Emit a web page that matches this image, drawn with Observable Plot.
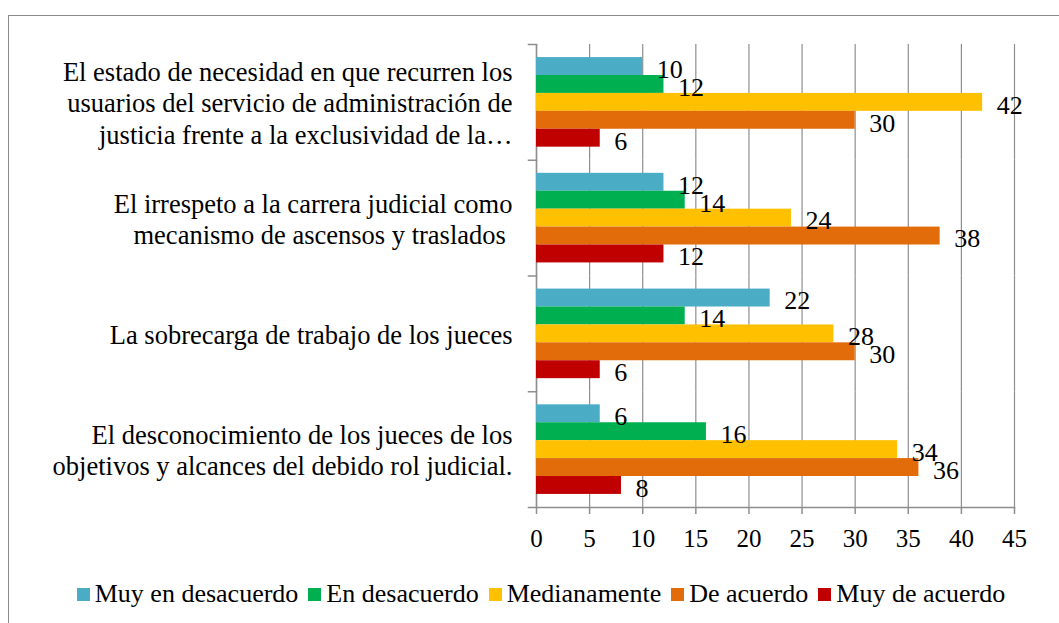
<!DOCTYPE html>
<html>
<head>
<meta charset="utf-8">
<script src="https://cdn.jsdelivr.net/npm/d3@7"></script>
<script src="https://cdn.jsdelivr.net/npm/@observablehq/plot@0.6"></script>
<style>
  html, body { margin: 0; padding: 0; background: #fff; overflow: hidden; }
  #wrap { position: relative; width: 1059px; height: 623px; overflow: hidden; font-family: 'Times New Roman', 'Liberation Serif', 'DejaVu Serif', serif; }
  #border { position: absolute; left: 8px; top: 15px; width: 1200px; height: 800px; border: 1.5px solid #8a8a8a; box-sizing: border-box; }
  #chart { position: absolute; left: 0; top: 0; }
  #legend { position: absolute; left: 0; top: 579px; width: 1092px; display: flex; justify-content: center; align-items: center; font-size: 26px; color: #000; }
  .item { display: flex; align-items: center; margin-right: 10px; white-space: nowrap; }
  .sw { width: 13px; height: 13px; margin-right: 5px; }
</style>
</head>
<body>
<div id="wrap">
  <div id="border"></div>
  <div id="chart"></div>
  <div id="legend"></div>
</div>
<script>
const categories = [
  "El estado de necesidad en que recurren los\nusuarios del servicio de administración de\njusticia frente a la exclusividad de la…",
  "El irrespeto a la carrera judicial como\nmecanismo de ascensos y traslados ",
  "La sobrecarga de trabajo de los jueces",
  "El desconocimiento de los jueces de los\nobjetivos y alcances del debido rol judicial."
];
const series = ["Muy en desacuerdo", "En desacuerdo", "Medianamente", "De acuerdo", "Muy de acuerdo"];
const colors = ["#4BACC6", "#00B050", "#FFC000", "#E36C0A", "#C00000"];
// one array per series, values in category order
const muyEnDesacuerdo = [10, 12, 22, 6];
const enDesacuerdo    = [12, 14, 14, 16];
const medianamente    = [42, 24, 28, 34];
const deAcuerdo       = [30, 38, 30, 36];
const muyDeAcuerdo    = [6, 12, 6, 8];
const xTicks = [0, 5, 10, 15, 20, 25, 30, 35, 40, 45];

const seriesValues = [muyEnDesacuerdo, enDesacuerdo, medianamente, deAcuerdo, muyDeAcuerdo];
const data = [];
categories.forEach((c, ci) => {
  series.forEach((s, si) => {
    data.push({cat: c, series: s, value: seriesValues[si][ci]});
  });
});

const width = 1059, height = 560;
const marginLeft = 536, marginRight = 45, marginTop = 44, marginBottom = 53;
const plotW = width - marginLeft - marginRight;
const gray = "#8e8e8e";
const FONT = "'Times New Roman', 'Liberation Serif', 'DejaVu Serif', serif";

const chart = Plot.plot({
  width, height, marginLeft, marginRight, marginTop, marginBottom,
  style: {fontFamily: FONT, background: "transparent", color: "#000"},
  x: {domain: [0, 45]},
  y: {domain: series, paddingInner: 0, paddingOuter: 0.73, round: false, axis: null},
  fy: {domain: categories, padding: 0, round: false},
  color: {domain: series, range: colors},
  marks: [
    Plot.gridX(xTicks, {stroke: gray, strokeOpacity: 1, strokeWidth: 1.2}),
    Plot.ruleX([0], {stroke: gray, strokeWidth: 1.5}),
    Plot.frame({anchor: "top", stroke: gray, strokeWidth: 1.5, insetLeft: -8, insetRight: plotW}),
    Plot.frame({anchor: "bottom", facetAnchor: "bottom", stroke: gray, strokeWidth: 1.5, insetLeft: -8}),
    Plot.barX(data, {x: "value", y: "series", fy: "cat", fill: "series", inset: 0}),
    Plot.text(data, {x: "value", y: "series", fy: "cat", text: d => String(d.value), textAnchor: "start", dx: 14, dy: 3, fontSize: 26, fill: "#000"}),
    Plot.axisX(xTicks, {anchor: "bottom", tickSize: 7, tickPadding: 15, fontSize: 25, label: null, stroke: gray, strokeWidth: 1.5, tickFormat: d => String(d)}),
    Plot.axisFy({anchor: "left", tickSize: 0, tickPadding: 24, fontSize: 26.5, lineHeight: 1.18, textAnchor: "end", label: null})
  ]
});
document.getElementById("chart").appendChild(chart);

const legend = document.getElementById("legend");
series.forEach((s, i) => {
  const item = document.createElement("div");
  item.className = "item";
  const sw = document.createElement("div");
  sw.className = "sw";
  sw.style.background = colors[i];
  const t = document.createElement("span");
  t.textContent = s;
  item.appendChild(sw);
  item.appendChild(t);
  legend.appendChild(item);
});
</script>
</body>
</html>
